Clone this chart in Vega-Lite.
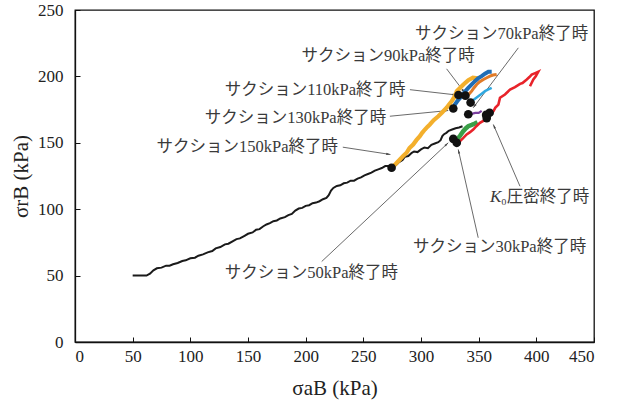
{
  "$schema": "https://vega.github.io/schema/vega-lite/v6.json",
  "width": 519,
  "height": 332,
  "autosize": {"type": "none"},
  "padding": {"left": 75, "top": 10, "right": 23, "bottom": 61},
  "background": "white",
  "config": {
    "view": {"stroke": "#111", "strokeWidth": 1.3},
    "axis": {"grid": false, "domainColor": "#111", "domainWidth": 1.3, "tickColor": "#111", "tickSize": -5, "labelFont": "'Liberation Serif', 'Times New Roman', serif", "labelFontSize": 17, "labelColor": "#222", "titleFont": "'Liberation Serif', 'Times New Roman', serif", "titleFontSize": 21, "titleFontWeight": "normal", "titleColor": "#222"}
  },
  "datasets": {
    "lines": [
      {"s": "black", "x": 50, "y": 50}, {"s": "black", "x": 56, "y": 50}, {"s": "black", "x": 62, "y": 50}, {"s": "black", "x": 65, "y": 51.5}, {"s": "black", "x": 68, "y": 54}, {"s": "black", "x": 71, "y": 55.5}, {"s": "black", "x": 75, "y": 56}, {"s": "black", "x": 79, "y": 57.5}, {"s": "black", "x": 82, "y": 57.5}, {"s": "black", "x": 85, "y": 58.5}, {"s": "black", "x": 89, "y": 59.5}, {"s": "black", "x": 93, "y": 61}, {"s": "black", "x": 96, "y": 61.5}, {"s": "black", "x": 100, "y": 63}, {"s": "black", "x": 104, "y": 63.5}, {"s": "black", "x": 107, "y": 65}, {"s": "black", "x": 111, "y": 66}, {"s": "black", "x": 115, "y": 67.5}, {"s": "black", "x": 119, "y": 68.5}, {"s": "black", "x": 122, "y": 70.5}, {"s": "black", "x": 126, "y": 71.5}, {"s": "black", "x": 130, "y": 73.5}, {"s": "black", "x": 133, "y": 74}, {"s": "black", "x": 137, "y": 76}, {"s": "black", "x": 140, "y": 77.5}, {"s": "black", "x": 143, "y": 78}, {"s": "black", "x": 147, "y": 80}, {"s": "black", "x": 150, "y": 81.5}, {"s": "black", "x": 154, "y": 82.5}, {"s": "black", "x": 157, "y": 84.5}, {"s": "black", "x": 160, "y": 85}, {"s": "black", "x": 163, "y": 87}, {"s": "black", "x": 166, "y": 88.5}, {"s": "black", "x": 169, "y": 89.5}, {"s": "black", "x": 172, "y": 91}, {"s": "black", "x": 175, "y": 91.5}, {"s": "black", "x": 178, "y": 93}, {"s": "black", "x": 182, "y": 94}, {"s": "black", "x": 185, "y": 95.5}, {"s": "black", "x": 188, "y": 96.5}, {"s": "black", "x": 191, "y": 99}, {"s": "black", "x": 194, "y": 100.5}, {"s": "black", "x": 197, "y": 101}, {"s": "black", "x": 200, "y": 102.5}, {"s": "black", "x": 203, "y": 103}, {"s": "black", "x": 206, "y": 104.5}, {"s": "black", "x": 209, "y": 105}, {"s": "black", "x": 212, "y": 106}, {"s": "black", "x": 215, "y": 107.5}, {"s": "black", "x": 218, "y": 108.5}, {"s": "black", "x": 220, "y": 110.5}, {"s": "black", "x": 222, "y": 114}, {"s": "black", "x": 224, "y": 116}, {"s": "black", "x": 227, "y": 117.5}, {"s": "black", "x": 230, "y": 118}, {"s": "black", "x": 233, "y": 119.5}, {"s": "black", "x": 236, "y": 120}, {"s": "black", "x": 239, "y": 121.5}, {"s": "black", "x": 242, "y": 121.5}, {"s": "black", "x": 245, "y": 123}, {"s": "black", "x": 248, "y": 124}, {"s": "black", "x": 251, "y": 125.5}, {"s": "black", "x": 254, "y": 126.5}, {"s": "black", "x": 257, "y": 127.5}, {"s": "black", "x": 260, "y": 129}, {"s": "black", "x": 263, "y": 130}, {"s": "black", "x": 266, "y": 131}, {"s": "black", "x": 269, "y": 132.5}, {"s": "black", "x": 272, "y": 132.5}, {"s": "black", "x": 275, "y": 131.5}, {"s": "black", "x": 278, "y": 133}, {"s": "black", "x": 281, "y": 135.5}, {"s": "black", "x": 284, "y": 137}, {"s": "black", "x": 286, "y": 139.5}, {"s": "black", "x": 289, "y": 140}, {"s": "black", "x": 292, "y": 142.5}, {"s": "black", "x": 294, "y": 143.5}, {"s": "black", "x": 297, "y": 143}, {"s": "black", "x": 300, "y": 145}, {"s": "black", "x": 303, "y": 146.5}, {"s": "black", "x": 306, "y": 146}, {"s": "black", "x": 309, "y": 148.5}, {"s": "black", "x": 312, "y": 149.5}, {"s": "black", "x": 315, "y": 150.5}, {"s": "black", "x": 317, "y": 152}, {"s": "black", "x": 318.5, "y": 155}, {"s": "black", "x": 320, "y": 156.5}, {"s": "black", "x": 322, "y": 157.5}, {"s": "black", "x": 324, "y": 159}, {"s": "black", "x": 327, "y": 160}, {"s": "black", "x": 330, "y": 161}, {"s": "black", "x": 333, "y": 161.5}, {"s": "black", "x": 336, "y": 162.5},

      {"s": "gold", "x": 274.5, "y": 131.5}, {"s": "gold", "x": 278, "y": 134}, {"s": "gold", "x": 281.7, "y": 137.4}, {"s": "gold", "x": 285, "y": 140.5}, {"s": "gold", "x": 287.5, "y": 142.5}, {"s": "gold", "x": 290, "y": 146}, {"s": "gold", "x": 293.2, "y": 148.7}, {"s": "gold", "x": 296, "y": 152}, {"s": "gold", "x": 299, "y": 155}, {"s": "gold", "x": 301, "y": 157.5}, {"s": "gold", "x": 303.4, "y": 160}, {"s": "gold", "x": 305.5, "y": 162}, {"s": "gold", "x": 307.7, "y": 163.8}, {"s": "gold", "x": 311, "y": 167}, {"s": "gold", "x": 315, "y": 170}, {"s": "gold", "x": 318.5, "y": 173}, {"s": "gold", "x": 322.2, "y": 176.4}, {"s": "gold", "x": 324.5, "y": 179}, {"s": "gold", "x": 326.6, "y": 181.3}, {"s": "gold", "x": 329, "y": 184.5}, {"s": "gold", "x": 331, "y": 188.9}, {"s": "gold", "x": 334, "y": 191.5}, {"s": "gold", "x": 336.8, "y": 193.9}, {"s": "gold", "x": 341, "y": 197.2}, {"s": "gold", "x": 345, "y": 199}, {"s": "gold", "x": 349.5, "y": 198.5},

      {"s": "blue", "x": 328.5, "y": 177}, {"s": "blue", "x": 329.4, "y": 178.8}, {"s": "blue", "x": 332, "y": 182}, {"s": "blue", "x": 335.2, "y": 185.1}, {"s": "blue", "x": 338, "y": 188.5}, {"s": "blue", "x": 341, "y": 191.4}, {"s": "blue", "x": 344, "y": 194}, {"s": "blue", "x": 346.8, "y": 196.4}, {"s": "blue", "x": 349.5, "y": 198.5}, {"s": "blue", "x": 352.6, "y": 200.2}, {"s": "blue", "x": 355.5, "y": 202}, {"s": "blue", "x": 358.4, "y": 203.5}, {"s": "blue", "x": 361.3, "y": 203.5},

      {"s": "orange", "x": 339, "y": 184}, {"s": "orange", "x": 341.5, "y": 186.5}, {"s": "orange", "x": 343.9, "y": 188.9}, {"s": "orange", "x": 346, "y": 191.5}, {"s": "orange", "x": 348.3, "y": 193.9}, {"s": "orange", "x": 351, "y": 196}, {"s": "orange", "x": 354.1, "y": 197.7}, {"s": "orange", "x": 357, "y": 199}, {"s": "orange", "x": 359.8, "y": 200.2}, {"s": "orange", "x": 362.5, "y": 201}, {"s": "orange", "x": 365.6, "y": 201.5},

      {"s": "lightblue", "x": 343.9, "y": 181.3}, {"s": "lightblue", "x": 346.8, "y": 183.2}, {"s": "lightblue", "x": 349.7, "y": 185.1}, {"s": "lightblue", "x": 352.6, "y": 187}, {"s": "lightblue", "x": 355.5, "y": 188.9}, {"s": "lightblue", "x": 358.4, "y": 190.2}, {"s": "lightblue", "x": 361.3, "y": 191.4},

      {"s": "purple", "x": 341, "y": 171.5}, {"s": "purple", "x": 343.9, "y": 171.8}, {"s": "purple", "x": 347, "y": 172.5}, {"s": "purple", "x": 350, "y": 172.5}, {"s": "purple", "x": 352.6, "y": 174},

      {"s": "green", "x": 331, "y": 152}, {"s": "green", "x": 334, "y": 155.5}, {"s": "green", "x": 336.6, "y": 158.7}, {"s": "green", "x": 339, "y": 161}, {"s": "green", "x": 341, "y": 162.5}, {"s": "green", "x": 344, "y": 163.5}, {"s": "green", "x": 346.8, "y": 164.5}, {"s": "green", "x": 349, "y": 165.5},

      {"s": "red", "x": 331, "y": 150}, {"s": "red", "x": 333.8, "y": 151.2}, {"s": "red", "x": 336.5, "y": 153.5}, {"s": "red", "x": 339.6, "y": 156.3}, {"s": "red", "x": 342.5, "y": 158}, {"s": "red", "x": 345.3, "y": 160}, {"s": "red", "x": 348, "y": 162.5}, {"s": "red", "x": 351.1, "y": 165}, {"s": "red", "x": 354, "y": 166.5}, {"s": "red", "x": 357, "y": 168.8}, {"s": "red", "x": 360, "y": 171.5}, {"s": "red", "x": 362.8, "y": 173.8}, {"s": "red", "x": 364.5, "y": 176.5}, {"s": "red", "x": 367.1, "y": 178.8}, {"s": "red", "x": 368.5, "y": 183.9}, {"s": "red", "x": 372.8, "y": 186.4}, {"s": "red", "x": 377.2, "y": 190.1}, {"s": "red", "x": 381.5, "y": 191.9}, {"s": "red", "x": 385.9, "y": 194.4}, {"s": "red", "x": 388, "y": 195}, {"s": "red", "x": 391.7, "y": 197.7}, {"s": "red", "x": 394, "y": 199.5}, {"s": "red", "x": 396, "y": 201.4}, {"s": "red", "x": 399, "y": 202.5}, {"s": "red", "x": 401.7, "y": 203.5}, {"s": "red", "x": 399.5, "y": 200}, {"s": "red", "x": 397.4, "y": 197.7}, {"s": "red", "x": 394.5, "y": 192.6}
    ],
    "dots": [
      {"x": 274.5, "y": 131.2}, {"x": 328, "y": 175.8}, {"x": 332.5, "y": 186}, {"x": 338.5, "y": 185.5}, {"x": 343, "y": 180.3}, {"x": 341, "y": 171.5}, {"x": 357, "y": 168.6}, {"x": 359.5, "y": 172.6}, {"x": 356.5, "y": 171}, {"x": 328, "y": 153}, {"x": 331, "y": 150}
    ],
    "arrows": [
      {"x": 232.2, "y": 146.7, "x2": 273.5, "y2": 141.2},
      {"x": 273, "y": 170, "x2": 323.6, "y2": 174.3},
      {"x": 290.4, "y": 190, "x2": 331, "y2": 186},
      {"x": 322.2, "y": 205.7, "x2": 338, "y2": 187.6},
      {"x": 384.4, "y": 221.5, "x2": 345.3, "y2": 176.4},
      {"x": 213.9, "y": 60.6, "x2": 323.6, "y2": 150},
      {"x": 349.6, "y": 78.5, "x2": 332.3, "y2": 145},
      {"x": 385.8, "y": 117.3, "x2": 362.7, "y2": 163.8}
    ],
    "labels": [
      {"label": "サクション70kPa終了時", "x": 294.7, "y": 232.3},
      {"label": "サクション90kPa終了時", "x": 196.4, "y": 215.7},
      {"label": "サクション110kPa終了時", "x": 129.8, "y": 190.1},
      {"label": "サクション130kPa終了時", "x": 112.4, "y": 169},
      {"label": "サクション150kPa終了時", "x": 70.7, "y": 147.2},
      {"label": "サクション50kPa終了時", "x": 129.8, "y": 52.3},
      {"label": "サクション30kPa終了時", "x": 293, "y": 71.2},
      {"label": "₀圧密終了時", "x": 369.4, "y": 109.4}
    ],
    "italic": [
      {"label": "K", "x": 359.8, "y": 109.4}
    ]
  },
  "layer": [
    {
      "data": {"name": "arrows"},
      "mark": {"type": "rule", "color": "#444", "strokeWidth": 0.8},
      "encoding": {
        "x": {"field": "x", "type": "quantitative", "scale": {"domain": [0, 450], "nice": false}, "axis": {"title": "σaB  (kPa)", "values": [0,25,50,75,100,125,150,175,200,225,250,275,300,325,350,375,400,425,450], "labelExpr": "datum.value % 50 == 0 ? datum.label : ''", "labelPadding": 11, "titlePadding": 13}},
        "y": {"field": "y", "type": "quantitative", "scale": {"domain": [0, 250], "nice": false}, "axis": {"title": "σrB  (kPa)", "values": [0,25,50,75,100,125,150,175,200,225,250], "labelExpr": "datum.value % 50 == 0 ? datum.label : ''", "labelPadding": 17, "titlePadding": 6}},
        "x2": {"field": "x2"},
        "y2": {"field": "y2"}
      }
    },
    {
      "data": {"name": "arrows"},
      "transform": [{"calculate": "atan2((datum.x2 - datum.x) * 1.152, (datum.y2 - datum.y) * 1.328) * 180 / PI", "as": "ang"}],
      "mark": {"type": "point", "shape": "M0,0L-0.45,1.8L0.45,1.8Z", "filled": true, "color": "#444", "size": 22, "opacity": 1},
      "encoding": {"x": {"field": "x2", "type": "quantitative"}, "y": {"field": "y2", "type": "quantitative"}, "angle": {"field": "ang", "type": "quantitative", "scale": null}}
    },
    {
      "data": {"name": "lines"},
      "transform": [{"filter": "datum.s == 'black'"}],
      "mark": {"type": "line", "color": "#1a1a1a", "strokeWidth": 2},
      "encoding": {"x": {"field": "x", "type": "quantitative"}, "y": {"field": "y", "type": "quantitative"}, "order": {"value": null}}
    },
    {
      "data": {"name": "lines"},
      "transform": [{"filter": "datum.s == 'gold'"}],
      "mark": {"type": "line", "color": "#f3af2c", "strokeWidth": 4.2},
      "encoding": {"x": {"field": "x", "type": "quantitative"}, "y": {"field": "y", "type": "quantitative"}, "order": {"value": null}}
    },
    {
      "data": {"name": "lines"},
      "transform": [{"filter": "datum.s == 'blue'"}],
      "mark": {"type": "line", "color": "#1f6db5", "strokeWidth": 4},
      "encoding": {"x": {"field": "x", "type": "quantitative"}, "y": {"field": "y", "type": "quantitative"}, "order": {"value": null}}
    },
    {
      "data": {"name": "lines"},
      "transform": [{"filter": "datum.s == 'orange'"}],
      "mark": {"type": "line", "color": "#e07b28", "strokeWidth": 3},
      "encoding": {"x": {"field": "x", "type": "quantitative"}, "y": {"field": "y", "type": "quantitative"}, "order": {"value": null}}
    },
    {
      "data": {"name": "lines"},
      "transform": [{"filter": "datum.s == 'lightblue'"}],
      "mark": {"type": "line", "color": "#2fa8e0", "strokeWidth": 2.5},
      "encoding": {"x": {"field": "x", "type": "quantitative"}, "y": {"field": "y", "type": "quantitative"}, "order": {"value": null}}
    },
    {
      "data": {"name": "lines"},
      "transform": [{"filter": "datum.s == 'purple'"}],
      "mark": {"type": "line", "color": "#7b3fa0", "strokeWidth": 2.2},
      "encoding": {"x": {"field": "x", "type": "quantitative"}, "y": {"field": "y", "type": "quantitative"}, "order": {"value": null}}
    },
    {
      "data": {"name": "lines"},
      "transform": [{"filter": "datum.s == 'green'"}],
      "mark": {"type": "line", "color": "#3a9f48", "strokeWidth": 4.5},
      "encoding": {"x": {"field": "x", "type": "quantitative"}, "y": {"field": "y", "type": "quantitative"}, "order": {"value": null}}
    },
    {
      "data": {"name": "lines"},
      "transform": [{"filter": "datum.s == 'red'"}],
      "mark": {"type": "line", "color": "#e8232a", "strokeWidth": 2.6},
      "encoding": {"x": {"field": "x", "type": "quantitative"}, "y": {"field": "y", "type": "quantitative"}, "order": {"value": null}}
    },
    {
      "data": {"name": "dots"},
      "mark": {"type": "circle", "color": "#111", "size": 75, "opacity": 1},
      "encoding": {"x": {"field": "x", "type": "quantitative"}, "y": {"field": "y", "type": "quantitative"}}
    },
    {
      "data": {"name": "labels"},
      "mark": {"type": "text", "align": "left", "baseline": "middle", "font": "'Liberation Serif', 'Times New Roman', 'Noto Sans CJK JP', serif", "fontSize": 16.5, "color": "#3a3a3a"},
      "encoding": {"x": {"field": "x", "type": "quantitative"}, "y": {"field": "y", "type": "quantitative"}, "text": {"field": "label"}}
    },
    {
      "data": {"name": "italic"},
      "mark": {"type": "text", "align": "left", "baseline": "middle", "font": "'Liberation Serif', 'Times New Roman', serif", "fontStyle": "italic", "fontSize": 17, "color": "#3a3a3a"},
      "encoding": {"x": {"field": "x", "type": "quantitative"}, "y": {"field": "y", "type": "quantitative"}, "text": {"field": "label"}}
    }
  ]
}
